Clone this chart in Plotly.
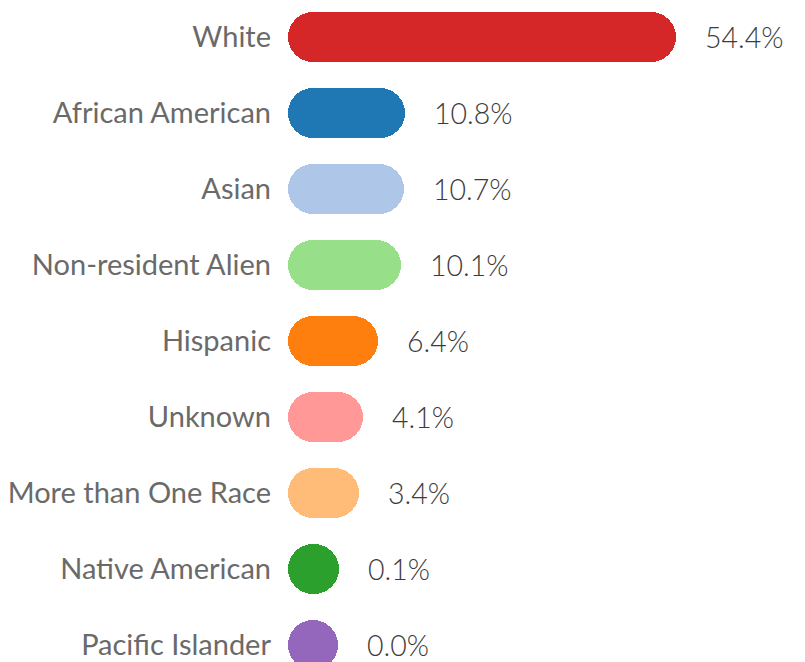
import plotly.graph_objects as go

# race / ethnicity share, top to bottom
CATEGORIES = [
    "White",
    "African American",
    "Asian",
    "Non-resident Alien",
    "Hispanic",
    "Unknown",
    "More than One Race",
    "Native American",
    "Pacific Islander",
]
PERCENT = [54.4, 10.8, 10.7, 10.1, 6.4, 4.1, 3.4, 0.1, 0.0]
COLORS = [
    "#d62728",
    "#1f77b4",
    "#aec7e8",
    "#98df8a",
    "#ff7f0e",
    "#ff9896",
    "#ffbb78",
    "#2ca02c",
    "#9467bd",
]

# pill end caps: bar gets extra length equal to its thickness (50px)
PX_PER_PCT = 6.213
PILL = 50 / PX_PER_PCT
LEFT = 280  # page body adds 8px
X_MAX = (805 - LEFT) / PX_PER_PCT
ROW = 76
FIRST = 29

fig = go.Figure()
fig.add_trace(
    go.Bar(
        y=CATEGORIES,
        x=[v + PILL for v in PERCENT],
        base=0,
        orientation="h",
        width=50 / ROW,
        marker=dict(color=COLORS, cornerradius="50%", line=dict(width=0)),
        hoverinfo="skip",
    )
)

for cat, v in zip(CATEGORIES, PERCENT):
    fig.add_annotation(
        x=v + PILL,
        y=cat,
        text=f"{v:.1f}%",
        showarrow=False,
        xanchor="left",
        yanchor="middle",
        xshift=27,
        font=dict(family="Lato", size=28.5, color="#3c3c3c", weight=300),
    )

fig.update_layout(
    width=805,
    height=662,
    margin=dict(l=LEFT, r=0, t=0, b=0),
    paper_bgcolor="white",
    plot_bgcolor="white",
    showlegend=False,
    bargap=0,
)
fig.update_xaxes(range=[0, X_MAX], visible=False, fixedrange=True)
fig.update_yaxes(
    categoryorder="array",
    categoryarray=CATEGORIES,
    range=[(662 - FIRST) / ROW, -FIRST / ROW],
    showgrid=False,
    zeroline=False,
    showline=False,
    ticks="",
    ticklabelstandoff=16,
    tickfont=dict(family="Lato", size=29, color="#6a6a6a"),
    fixedrange=True,
)

fig.write_html("out.html")
